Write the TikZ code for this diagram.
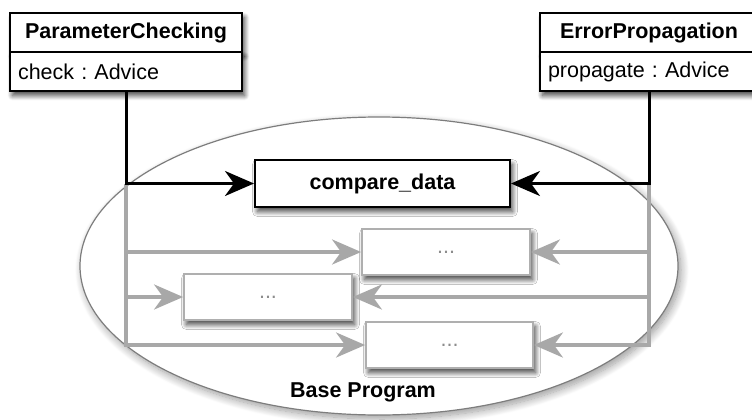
\documentclass[tikz,border=0pt]{standalone}
\usepackage{fontspec}
\setmainfont{Liberation Sans}
\usetikzlibrary{arrows.meta,shadows.blur,shapes.geometric}

\definecolor{linegray}{RGB}{168,168,168}
\definecolor{boxgray}{RGB}{175,175,175}
\definecolor{ovalgray}{RGB}{125,125,125}
\definecolor{dotgray}{RGB}{140,140,140}

\newcommand\diagfont{\fontsize{21.5}{26}\selectfont\frenchspacing}

\tikzset{
  softshadow/.style={blur shadow={shadow xshift=2.5pt,shadow yshift=-4.5pt,
      shadow blur radius=5pt,shadow blur steps=10,shadow opacity=75}},
  classhead/.style={draw=black,line width=2pt,fill=white,softshadow,
      minimum height=39pt,inner sep=0pt,font=\diagfont\bfseries},
  classbody/.style={draw=black,line width=2pt,fill=white,softshadow,
      minimum height=39pt,inner ysep=0pt,inner xsep=8pt,align=left,font=\diagfont},
  mainbox/.style={draw=black,line width=2pt,fill=white,softshadow,
      minimum width=255pt,minimum height=47pt,inner sep=0pt,font=\diagfont\bfseries},
  otherbox/.style={draw=boxgray,line width=1.8pt,fill=white,softshadow,
      minimum height=46pt,inner sep=0pt,text=dotgray,font=\diagfont},
  blackarrow/.style={draw=black,line width=3pt,
      -{Stealth[length=29pt,width=25pt,inset=9pt]}},
  grayline/.style={draw=linegray,line width=3.4pt},
  grayarrow/.style={grayline,-{Stealth[length=29pt,width=25pt,inset=9pt]}},
}

\begin{document}
\begin{tikzpicture}[x=1pt,y=-1pt,font=\diagfont]
  \useasboundingbox (0,0) rectangle (752,420);

  % the base program
  \node[ellipse,draw=ovalgray,line width=1.2pt,fill=white,
        blur shadow={shadow xshift=3pt,shadow yshift=-4pt,shadow blur radius=8pt,
                     shadow blur steps=12,shadow opacity=40},
        minimum width=598pt,minimum height=298pt,inner sep=0pt] (base) at (379,266) {};
  \node[font=\diagfont\bfseries] (baselabel) at (363,392) {Base Program};

  % join points inside the base program
  \node[mainbox] (cd) at (382.5,183.5) {compare\_data};
  \node[otherbox,minimum width=168pt] (b1) at (446,252) {...};
  \node[otherbox,minimum width=168pt] (b2) at (268,297) {...};
  \node[otherbox,minimum width=167pt] (b3) at (449.5,345) {...};

  % aspects
  \node[classhead,minimum width=232pt] (pchead) at (126,32.5) {ParameterChecking};
  \node[classbody,text width=216pt] (pcbody) at (126,71.5) {check : Advice};
  \node[classhead,minimum width=218pt] (ephead) at (649,32.5) {ErrorPropagation};
  \node[classbody,text width=202pt] (epbody) at (649,71.5) {propagate : Advice};

  \coordinate (lt) at (pcbody.south |- cd.west);
  \coordinate (rt) at (epbody.south |- cd.east);

  % gray advice connectors
  \draw[grayarrow] (lt) |- (b3.west);
  \draw[grayarrow] (lt |- b1.west) -- (b1.west);
  \draw[grayarrow] (lt |- b2.west) -- (b2.west);
  \draw[grayarrow] (rt) |- (b3.east);
  \draw[grayarrow] (rt |- b1.east) -- (b1.east);
  \draw[grayarrow] (rt |- b2.east) -- (b2.east);

  % black advice connectors
  \draw[blackarrow] (pcbody.south) |- (cd.west);
  \draw[blackarrow] (epbody.south) |- (cd.east);
\end{tikzpicture}
\end{document}
